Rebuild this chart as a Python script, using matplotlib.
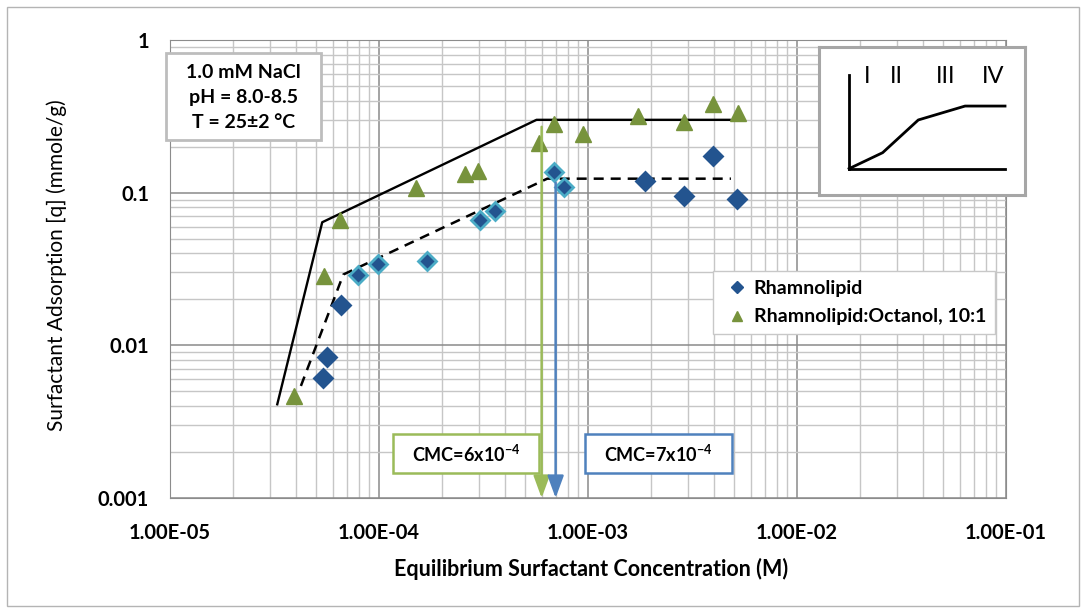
import matplotlib.pyplot as plt
from matplotlib.patches import Rectangle
from matplotlib.lines import Line2D
from matplotlib.ticker import FixedLocator, NullFormatter, LogLocator

plt.rcParams['font.family'] = ['Lato', 'DejaVu Sans']
plt.rcParams['mathtext.fontset'] = 'custom'
plt.rcParams['mathtext.rm'] = 'Lato:bold'
plt.rcParams['mathtext.bf'] = 'Lato:bold'
plt.rcParams['mathtext.it'] = 'Lato:bold'

# ---------------- data ----------------
rl_conc = [5.37e-5, 5.64e-5, 6.58e-5, 7.93e-5, 9.84e-5, 1.69e-4, 3.05e-4,
           3.57e-4, 6.87e-4, 7.66e-4, 1.87e-3, 2.88e-3, 3.97e-3, 5.15e-3]
rl_ads = [0.00615, 0.0084, 0.01825, 0.0291, 0.0342, 0.0356, 0.0667,
          0.0762, 0.137, 0.109, 0.120, 0.0955, 0.173, 0.091]

oct_conc = [3.94e-5, 5.46e-5, 6.52e-5, 1.51e-4, 2.57e-4, 2.97e-4, 5.85e-4,
            6.87e-4, 9.42e-4, 1.73e-3, 2.88e-3, 3.97e-3, 5.21e-3]
oct_ads = [0.00464, 0.0285, 0.0667, 0.107, 0.133, 0.138, 0.212,
           0.281, 0.244, 0.319, 0.292, 0.382, 0.332]

# piecewise trend lines
fit_rl_conc = [4.23e-5, 6.75e-5, 6.38e-4, 4.83e-3]
fit_rl_ads = [0.00542, 0.0291, 0.1235, 0.1235]
fit_oct_conc = [3.26e-5, 5.35e-5, 5.67e-4, 4.76e-3]
fit_oct_ads = [0.00411, 0.064, 0.300, 0.300]

# CMC markers (concentration, where the arrow starts)
cmc_oct, cmc_oct_top = 6e-4, 0.27
cmc_rl, cmc_rl_top = 7e-4, 0.116

x_ticks = [1e-5, 1e-4, 1e-3, 1e-2, 1e-1]
x_tick_labels = ['1.00E-05', '1.00E-04', '1.00E-03', '1.00E-02', '1.00E-01']
y_ticks = [1e-3, 1e-2, 1e-1, 1]
y_tick_labels = ['0.001', '0.01', '0.1', '1']

# schematic isotherm in the inset (normalised box units)
stage_x = [0.146, 0.309, 0.482, 0.709, 0.903]
stage_y = [0.178, 0.286, 0.507, 0.601, 0.601]
stage_names = ['I', 'II', 'III', 'IV']
stage_label_x = [0.232, 0.377, 0.617, 0.846]

# ---------------- figure ----------------
W, H = 1086, 613
fig = plt.figure(figsize=(W / 100, H / 100), dpi=100)


def fr(x0, y0, x1, y1):
    # pixel box (top-left origin) -> figure fraction rect
    return [x0 / W, 1 - y1 / H, (x1 - x0) / W, (y1 - y0) / H]


fig.patches.append(Rectangle((7 / W, 7 / H), 1072 / W, 599 / H, transform=fig.transFigure,
                             fill=False, edgecolor='#B4B4B4', lw=1))

ax = fig.add_axes(fr(170, 40, 1006, 498))
ax.set_xscale('log')
ax.set_yscale('log')
ax.set_xlim(1e-5, 1e-1)
ax.set_ylim(1e-3, 1)

ax.xaxis.set_major_locator(FixedLocator(x_ticks))
ax.set_xticklabels(x_tick_labels)
ax.yaxis.set_major_locator(FixedLocator(y_ticks))
ax.set_yticklabels(y_tick_labels)
ax.xaxis.set_minor_locator(LogLocator(subs=range(2, 10), numticks=20))
ax.yaxis.set_minor_locator(LogLocator(subs=range(2, 10), numticks=20))
ax.xaxis.set_minor_formatter(NullFormatter())
ax.yaxis.set_minor_formatter(NullFormatter())
ax.tick_params(which='both', length=0)
ax.tick_params(axis='x', pad=18, labelsize=14.5)
ax.tick_params(axis='y', pad=15, labelsize=14.5)
for lab in ax.get_xticklabels() + ax.get_yticklabels():
    lab.set_fontweight('bold')

ax.grid(which='minor', color='#C6C6C6', lw=1)
ax.grid(which='major', color='#8A8A8A', lw=1.1)
ax.set_axisbelow(True)
for s in ax.spines.values():
    s.set_color('#8C8C8C')

# trend lines
ax.plot(fit_oct_conc, fit_oct_ads, color='black', lw=1.7, zorder=3)
ax.plot(fit_rl_conc, fit_rl_ads, color='black', lw=1.8, ls=(0, (4, 2.8)), zorder=3)

# data points
edge_rl = ['#23548F'] * 3 + ['#4BACC6'] * 7 + ['#23548F'] * 4
for xc, yc, ec in zip(rl_conc, rl_ads, edge_rl):
    ax.plot(xc, yc, 'D', ms=9.5, mfc='#23548F', mec=ec, mew=2, zorder=4)
ax.plot(oct_conc, oct_ads, '^', ms=12, mfc='#77933C', mec='#77933C', ls='none', zorder=4)

# CMC arrows
for xc, top, col in [(cmc_oct, cmc_oct_top, '#9BBB59'), (cmc_rl, cmc_rl_top, '#4F81BD')]:
    ax.annotate('', xy=(xc, 1e-3), xytext=(xc, top),
                arrowprops=dict(arrowstyle='-|>,head_length=0.9,head_width=0.33',
                                color=col, lw=1.8, shrinkA=0, shrinkB=0,
                                mutation_scale=15), zorder=5)

# CMC boxes
for (x0, x1), col, txt in [((393, 539), '#9BBB59', r'CMC=6x10$^{-4}$'),
                           ((585, 732), '#4F81BD', r'CMC=7x10$^{-4}$')]:
    fig.patches.append(Rectangle((x0 / W, 1 - 473 / H), (x1 - x0) / W, 39 / H,
                                 transform=fig.transFigure, facecolor='white',
                                 edgecolor=col, lw=1.8, zorder=6))
    fig.text((x0 + x1) / 2 / W, 1 - 454 / H, txt, ha='center', va='center',
             fontsize=13, fontweight='bold', zorder=7)

# conditions box
fig.patches.append(Rectangle((166 / W, 1 - 140 / H), 155 / W, 87 / H, transform=fig.transFigure,
                             facecolor='white', edgecolor='#BDBDBD', lw=2, zorder=6))
for txt, yy in [('1.0 mM NaCl', 72), ('pH = 8.0-8.5', 97), ('T = 25\u00b12 \u00b0C', 123)]:
    fig.text(243.5 / W, 1 - yy / H, txt, ha='center', va='center', fontsize=14,
             fontweight='bold', zorder=7)

# legend
handles = [Line2D([], [], marker='D', ls='none', ms=6, color='#23548F'),
           Line2D([], [], marker='^', ls='none', ms=7.5, color='#77933C')]
leg = ax.legend(handles, ['Rhamnolipid', 'Rhamnolipid:Octanol, 10:1'],
                loc='upper left', bbox_to_anchor=(713 / W, 1 - 271 / H),
                bbox_transform=fig.transFigure, borderaxespad=0, fancybox=False,
                edgecolor='#C8C8C8', framealpha=1, prop={'size': 14, 'weight': 'bold'},
                handlelength=1.6, handletextpad=0.05, labelspacing=0.6,
                borderpad=0.45)
leg.get_frame().set_linewidth(1)
leg.set_zorder(6)

# inset schematic
ins = fig.add_axes(fr(819, 47, 1025, 195))
ins.set_xlim(0, 1)
ins.set_ylim(0, 1)
ins.set_xticks([])
ins.set_yticks([])
for s in ins.spines.values():
    s.set_color('#A6A6A6')
    s.set_linewidth(2.2)
ins.plot([stage_x[0], stage_x[0]], [0.811, stage_y[0]], color='black', lw=2)
ins.plot([stage_x[0], stage_x[-1]], [stage_y[0], stage_y[0]], color='black', lw=2)
ins.plot(stage_x, stage_y, color='black', lw=2)
for nm, lx in zip(stage_names, stage_label_x):
    ins.text(lx, 0.80, nm, ha='center', va='center', fontsize=17)

fig.text(57 / W, 1 - 265 / H, 'Surfactant Adsorption [q] (mmole/g)', rotation=90,
         ha='center', va='center', fontsize=15)
fig.text(591 / W, 1 - 569 / H, 'Equilibrium Surfactant Concentration (M)',
         ha='center', va='center', fontsize=15.5, fontweight='bold')

fig.savefig('out.png', dpi=100)
